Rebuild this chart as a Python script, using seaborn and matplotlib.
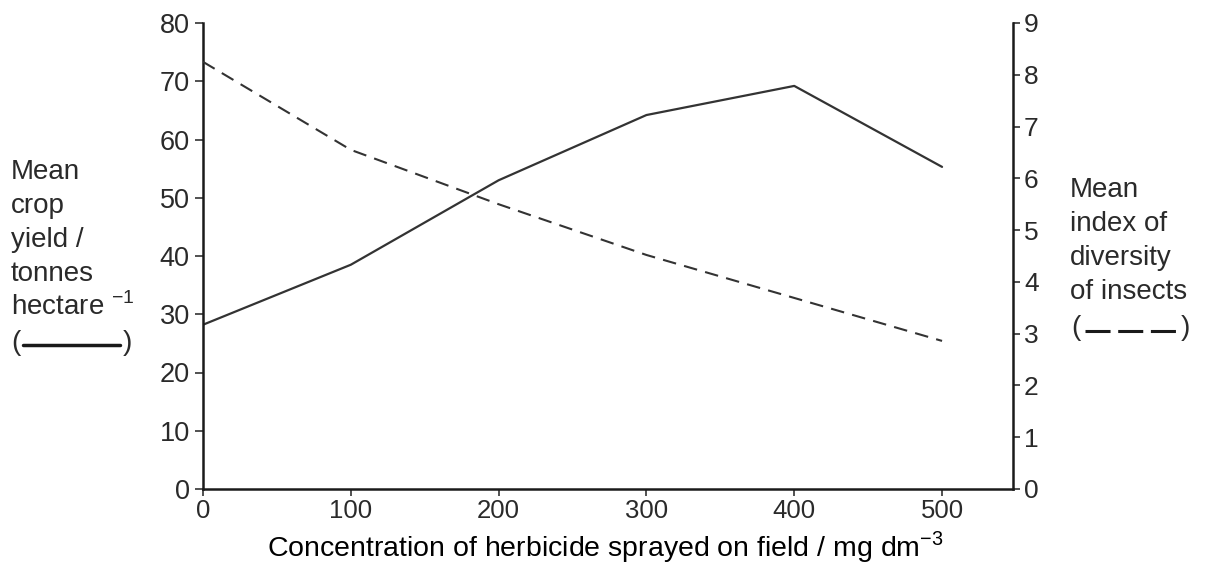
import pandas as pd
import matplotlib
matplotlib.use('Agg')
import matplotlib.pyplot as plt
from matplotlib.lines import Line2D
import seaborn as sns

# data
concentration = [0, 100, 200, 300, 400, 500]
crop_yield = [28.2, 38.5, 53.0, 64.2, 69.2, 55.3]
insect_diversity = [8.25, 6.55, 5.5, 4.52, 3.69, 2.86]

left_ticks = [0, 10, 20, 30, 40, 50, 60, 70, 80]
right_ticks = [0, 1, 2, 3, 4, 5, 6, 7, 8, 9]
x_ticks = [0, 100, 200, 300, 400, 500]

W, H = 1208, 588
LINE_COL = '#333333'
TEXT_COL = '#2a2a2a'

sns.set_style('ticks')
plt.rcParams['font.family'] = ['Liberation Sans', 'DejaVu Sans']
plt.rcParams['mathtext.fontset'] = 'custom'
plt.rcParams['mathtext.rm'] = 'Liberation Sans'


def px(x, y):
    # pixel position in the picture -> figure fraction
    return x / W, 1 - y / H


df = pd.DataFrame({'conc': concentration, 'yield': crop_yield,
                   'diversity': insect_diversity})

fig = plt.figure(figsize=(W / 100, H / 100), dpi=100)
ax = fig.add_axes([203 / W, (H - 489) / H, (1013 - 203) / W, (489 - 23) / H])
ax2 = ax.twinx()

sns.lineplot(data=df, x='conc', y='yield', ax=ax, color=LINE_COL, lw=1.6)
sns.lineplot(data=df, x='conc', y='diversity', ax=ax2, color=LINE_COL, lw=1.5,
             dashes=False, linestyle=(0, (6.5, 4)))

ax.set_xlim(0, 548)
ax.set_ylim(0, 80)
ax2.set_ylim(0, 9)
ax.set_xticks(x_ticks)
ax.set_yticks(left_ticks)
ax2.set_yticks(right_ticks)
ax.set_xlabel('')
ax.set_ylabel('')
ax2.set_ylabel('')

for a in (ax, ax2):
    for s in a.spines.values():
        s.set_visible(False)
    a.patch.set_visible(False)
ax.spines['left'].set_visible(True)
ax.spines['bottom'].set_visible(True)
ax2.spines['right'].set_visible(True)
for s in (ax.spines['left'], ax.spines['bottom'], ax2.spines['right']):
    s.set_linewidth(1.8)
    s.set_color('#1a1a1a')

ax.tick_params(axis='y', length=5.5, width=1.2, color='#333333',
               labelsize=19.5, labelcolor=TEXT_COL, pad=4)
ax.tick_params(axis='x', length=5, width=1.2, color='#333333',
               labelsize=18.5, labelcolor=TEXT_COL, pad=2)
ax2.tick_params(axis='y', length=5, width=1.2, color='#333333',
                labelsize=19, labelcolor=TEXT_COL, pad=3)

# x axis title
fig.text(*px(605, 547), 'Concentration of herbicide sprayed on field / mg dm$^{-3}$',
         ha='center', va='center', fontsize=20.5, color='black')

# left axis title, one line at a time
left_lines = ['Mean', 'crop', 'yield /', 'tonnes', 'hectare $^{-1}$']
for i, t in enumerate(left_lines):
    fig.text(*px(11, 179 + 34 * i), t, ha='left', va='baseline',
             fontsize=20, color=TEXT_COL)
fig.text(*px(11, 350), '(', ha='left', va='baseline', fontsize=20, color=TEXT_COL)
fig.text(*px(123, 350), ')', ha='left', va='baseline', fontsize=20, color=TEXT_COL)
x0, y0 = px(23, 345)
x1, _ = px(120, 345)
fig.add_artist(Line2D([x0, x1], [y0, y0], transform=fig.transFigure,
                      color='#1a1a1a', lw=2.5))

# right axis title
right_lines = ['Mean', 'index of', 'diversity', 'of insects']
for i, t in enumerate(right_lines):
    fig.text(*px(1070, 197 + 34 * i), t, ha='left', va='baseline',
             fontsize=20, color=TEXT_COL)
fig.text(*px(1071, 335), '(', ha='left', va='baseline', fontsize=20, color=TEXT_COL)
fig.text(*px(1181, 335), ')', ha='left', va='baseline', fontsize=20, color=TEXT_COL)
x0, y0 = px(1085, 331)
x1, _ = px(1177, 331)
fig.add_artist(Line2D([x0, x1], [y0, y0], transform=fig.transFigure,
                      color='#1a1a1a', lw=2.2, linestyle=(0, (8.2, 2.5))))

fig.savefig('out.png', dpi=100, facecolor='white')
plt.close(fig)
